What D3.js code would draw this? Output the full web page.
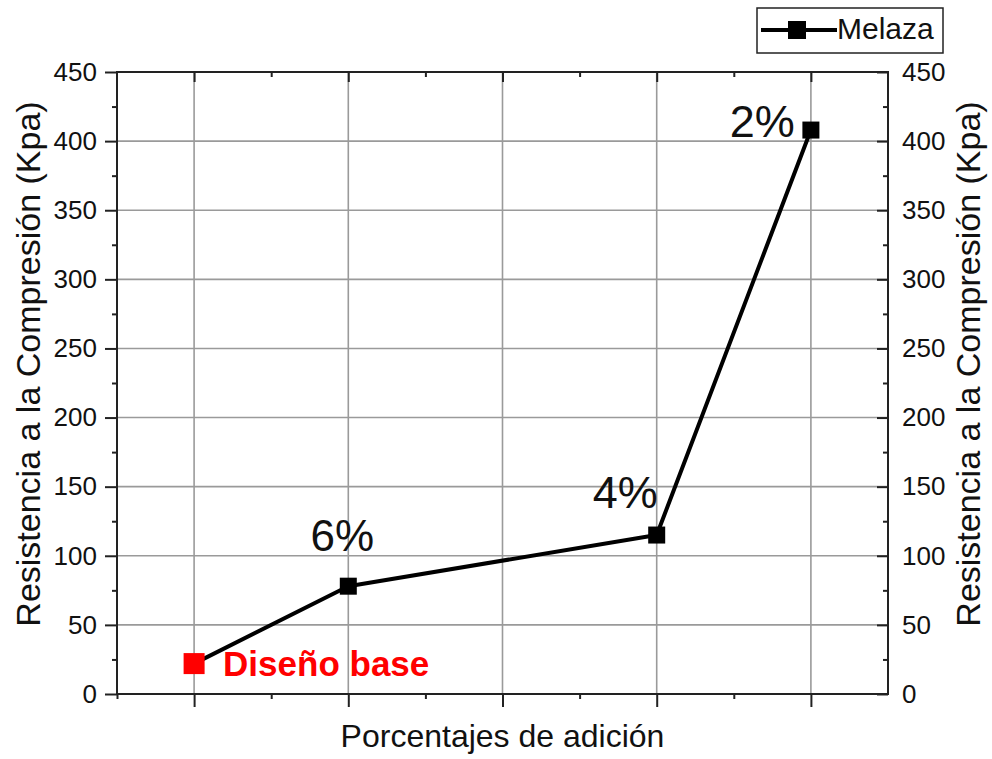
<!DOCTYPE html>
<html>
<head>
<meta charset="utf-8">
<script src="https://cdn.jsdelivr.net/npm/d3@7"></script>
<style>
  html, body { margin: 0; padding: 0; background: #fff; }
  svg { display: block; font-family: "Liberation Sans", Arial, sans-serif; }
</style>
</head>
<body>
<svg id="chart" width="992" height="759"></svg>
<script>
// ---- data ----
const categories = ["Diseño base", "6%", "4%", "2%"];
const xPositions = [1, 2, 4, 5];
const values = [22, 78, 115, 408];
const seriesName = "Melaza";
const yMajorTicks = [0, 50, 100, 150, 200, 250, 300, 350, 400, 450];
const yMinorTicks = [25, 75, 125, 175, 225, 275, 325, 375, 425];
const xMajorTicks = [1, 2, 3, 4, 5];
const xMinorTicks = [0.5, 1.5, 2.5, 3.5, 4.5];
const xTitle = "Porcentajes de adición";
const yTitle = "Resistencia a la Compresión (Kpa)";

// ---- layout ----
const L = 117, R = 888, T = 72, B = 694;
const svg = d3.select("#chart");
const x = d3.scaleLinear().domain([0.5, 5.5]).range([L, R]);
const y = d3.scaleLinear().domain([0, 450]).range([B, T]);
const axisColor = "#222";
const gridColor = "#9a9a9a";

// gridlines
const grid = svg.append("g");
grid.selectAll(".gv").data(xMajorTicks).join("line")
  .attr("x1", d => x(d)).attr("x2", d => x(d))
  .attr("y1", T).attr("y2", B)
  .attr("stroke", gridColor).attr("stroke-width", 1.6);
grid.selectAll(".gh").data(yMajorTicks.filter(d => d > 0 && d < 450)).join("line")
  .attr("x1", L).attr("x2", R)
  .attr("y1", d => y(d)).attr("y2", d => y(d))
  .attr("stroke", gridColor).attr("stroke-width", 1.6);

function styleAxis(g) {
  g.select(".domain").remove();
  g.selectAll("line").attr("stroke", axisColor).attr("stroke-width", 2);
  g.selectAll("text").attr("fill", "#111").style("font-size", "26px")
    .style("font-family", '"Liberation Sans", Arial, sans-serif');
}

// left axis (outward ticks, labels)
svg.append("g").attr("transform", `translate(${L},0)`)
  .call(d3.axisLeft(y).tickValues(yMajorTicks).tickSize(12).tickPadding(8).tickSizeOuter(0))
  .call(styleAxis);
svg.append("g").attr("transform", `translate(${L},0)`)
  .call(d3.axisLeft(y).tickValues(yMinorTicks).tickSize(5).tickFormat("").tickSizeOuter(0))
  .call(styleAxis);

// right axis (inward ticks, labels)
svg.append("g").attr("transform", `translate(${R},0)`)
  .call(d3.axisRight(y).tickValues(yMajorTicks).tickSize(-11).tickPadding(14).tickSizeOuter(0))
  .call(styleAxis);
svg.append("g").attr("transform", `translate(${R},0)`)
  .call(d3.axisRight(y).tickValues(yMinorTicks).tickSize(-5).tickFormat("").tickSizeOuter(0))
  .call(styleAxis);

// bottom axis (outward ticks, no labels)
svg.append("g").attr("transform", `translate(0,${B})`)
  .call(d3.axisBottom(x).tickValues(xMajorTicks).tickSize(13).tickFormat("").tickSizeOuter(0))
  .call(styleAxis);
svg.append("g").attr("transform", `translate(0,${B})`)
  .call(d3.axisBottom(x).tickValues(xMinorTicks).tickSize(5).tickFormat("").tickSizeOuter(0))
  .call(styleAxis);

// top axis (inward ticks)
svg.append("g").attr("transform", `translate(0,${T})`)
  .call(d3.axisTop(x).tickValues(xMajorTicks).tickSize(-10).tickFormat("").tickSizeOuter(0))
  .call(styleAxis);
svg.append("g").attr("transform", `translate(0,${T})`)
  .call(d3.axisTop(x).tickValues(xMinorTicks.slice(1)).tickSize(-5).tickFormat("").tickSizeOuter(0))
  .call(styleAxis);

// frame
svg.append("rect").attr("x", L).attr("y", T).attr("width", R - L).attr("height", B - T)
  .attr("fill", "none").attr("stroke", axisColor).attr("stroke-width", 2);

// axis titles
svg.append("text").attr("x", (L + R) / 2).attr("y", 747)
  .attr("text-anchor", "middle").style("font-size", "32px").attr("fill", "#111").text(xTitle);
svg.append("text").attr("transform", "translate(40,364) rotate(-90)")
  .attr("text-anchor", "middle").style("font-size", "34px").attr("fill", "#111").text(yTitle);
svg.append("text").attr("transform", "translate(980,364) rotate(-90)")
  .attr("text-anchor", "middle").style("font-size", "34px").attr("fill", "#111").text(yTitle);

// data
const pts = categories.map((c, i) => ({ c, xv: xPositions[i], v: values[i], i }));
svg.append("path").datum(pts)
  .attr("d", d3.line().x(d => x(d.xv)).y(d => y(d.v)))
  .attr("fill", "none").attr("stroke", "#000").attr("stroke-width", 4)
  .attr("stroke-linejoin", "round");

svg.selectAll(".mk").data(pts).join("rect")
  .attr("x", d => x(d.xv) - (d.i === 0 ? 10.5 : 8.5))
  .attr("y", d => y(d.v) - (d.i === 0 ? 10.5 : 8.5))
  .attr("width", d => d.i === 0 ? 21 : 17)
  .attr("height", d => d.i === 0 ? 21 : 17)
  .attr("fill", d => d.i === 0 ? "#ff0000" : "#000");

// point labels
const labelStyle = [
  { dx: 29, dy: 12.5, anchor: "start", size: 35, weight: "bold", color: "#ff0000" },
  { dx: -6, dy: -35, anchor: "middle", size: 44, weight: "normal", color: "#111" },
  { dx: 1, dy: -27.5, anchor: "end", size: 45, weight: "normal", color: "#111" },
  { dx: -16, dy: 6.5, anchor: "end", size: 45, weight: "normal", color: "#111" }
];
svg.selectAll(".pl").data(pts).join("text")
  .attr("x", d => x(d.xv) + labelStyle[d.i].dx)
  .attr("y", d => y(d.v) + labelStyle[d.i].dy)
  .attr("text-anchor", d => labelStyle[d.i].anchor)
  .style("font-size", d => labelStyle[d.i].size + "px")
  .style("font-weight", d => labelStyle[d.i].weight)
  .attr("fill", d => labelStyle[d.i].color)
  .text(d => d.c);

// legend
const lg = svg.append("g");
lg.append("rect").attr("x", 757).attr("y", 8).attr("width", 186).attr("height", 45)
  .attr("fill", "#fff").attr("stroke", axisColor).attr("stroke-width", 1.5);
lg.append("line").attr("x1", 761).attr("x2", 837).attr("y1", 30).attr("y2", 30)
  .attr("stroke", "#000").attr("stroke-width", 4);
lg.append("rect").attr("x", 788).attr("y", 21).attr("width", 18).attr("height", 18).attr("fill", "#000");
lg.append("text").attr("x", 837).attr("y", 39).style("font-size", "30px").attr("fill", "#111").text(seriesName);
</script>
</body>
</html>
